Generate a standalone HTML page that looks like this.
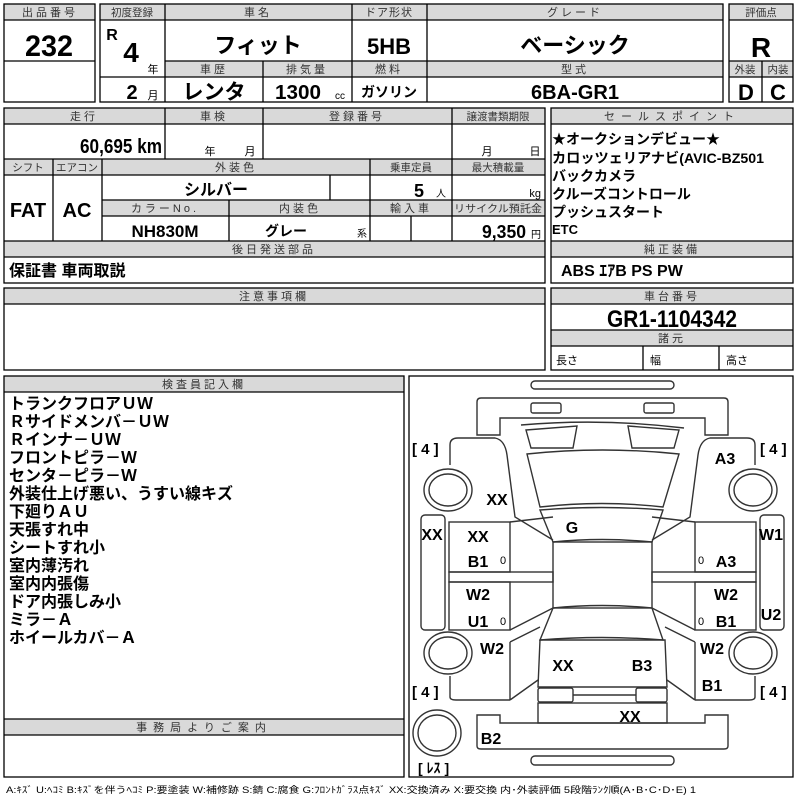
<!DOCTYPE html>
<html><head><meta charset="utf-8"><style>
html,body{margin:0;padding:0;background:#fff;width:800px;height:800px;overflow:hidden}
svg{display:block}
text{font-family:"Liberation Sans","Noto Sans CJK JP",sans-serif;fill:#000}
.h{font-size:11px;letter-spacing:3px;text-anchor:middle;fill:#333}
.h0{font-size:10.5px;letter-spacing:0;text-anchor:middle;fill:#333}
.b{font-weight:bold;text-anchor:middle}
.n{font-family:"Liberation Sans Narrow","Liberation Sans","Noto Sans CJK JP",sans-serif;font-weight:bold;text-anchor:middle}
.s{font-family:"Liberation Sans Narrow","Liberation Sans",sans-serif;font-weight:bold}
.g{fill:#d9d9d9}
.l{stroke:#000;stroke-width:1.3;fill:none}
.c{stroke:#333;stroke-width:1.4;fill:none}
.d{font-weight:bold;font-size:16px;text-anchor:middle}
</style></head><body>
<svg width="800" height="800" viewBox="0 0 800 800" xmlns="http://www.w3.org/2000/svg">
<rect class="g" x="4" y="4" width="91" height="16"/>
<rect class="g" x="100" y="4" width="623" height="16"/>
<rect class="g" x="165" y="61" width="558" height="16"/>
<rect class="g" x="729" y="4" width="64" height="16"/>
<rect class="g" x="729" y="61" width="64" height="16"/>
<rect class="g" x="4" y="108" width="541" height="16"/>
<rect class="g" x="4" y="159" width="541" height="16"/>
<rect class="g" x="102" y="200" width="443" height="16"/>
<rect class="g" x="4" y="241" width="541" height="16"/>
<rect class="g" x="551" y="108" width="242" height="16"/>
<rect class="g" x="551" y="241" width="242" height="16"/>
<rect class="g" x="4" y="288" width="541" height="16"/>
<rect class="g" x="551" y="288" width="242" height="16"/>
<rect class="g" x="551" y="330" width="242" height="16"/>
<rect class="g" x="4" y="376" width="400" height="16"/>
<rect class="g" x="4" y="719" width="400" height="16"/>

<rect class="l" x="4" y="4" width="91" height="98" stroke-width="1.6"/>
<path class="l" d="M4 20H95M4 61H95"/>
<text class="h" x="50" y="16">出品番号</text>
<text class="n" x="49" y="56" font-size="30" textLength="48" lengthAdjust="spacingAndGlyphs">232</text>

<rect class="l" x="100" y="4" width="623" height="98" stroke-width="1.6"/>
<path class="l" d="M100 20H723M165 61H723M100 77H723M165 4V102M352 4V102M427 4V102M263 61V102"/>
<text class="h0" x="132" y="16">初度登録</text>
<text class="h" x="258" y="16">車名</text>
<text class="h" x="389" y="16" style="letter-spacing:1px">ドア形状</text>
<text class="h" x="575" y="16">グレード</text>
<text class="n" x="112" y="40" font-size="16">R</text>
<text class="n" x="131" y="62" font-size="28">4</text>
<text x="153" y="73" font-size="11" text-anchor="middle">年</text>
<text class="n" x="132" y="99" font-size="20">2</text>
<text x="153" y="99" font-size="11" text-anchor="middle">月</text>
<text class="b" x="258" y="53" font-size="22">フィット</text>
<text class="n" x="389" y="54" font-size="22">5HB</text>
<text class="b" x="575" y="53" font-size="22">ベーシック</text>
<text class="h" x="214" y="73">車歴</text>
<text class="h" x="307" y="73">排気量</text>
<text class="h" x="389" y="73">燃料</text>
<text class="h" x="575" y="73">型式</text>
<text class="b" x="214" y="99" font-size="21">レンタ</text>
<text class="s" x="275" y="99" font-size="20" textLength="46" lengthAdjust="spacingAndGlyphs">1300</text>
<text x="340" y="99" font-size="10" text-anchor="middle">cc</text>
<text class="b" x="389" y="97" font-size="14">ガソリン</text>
<text class="s" x="531" y="99" font-size="20" textLength="88" lengthAdjust="spacingAndGlyphs">6BA-GR1</text>

<rect class="l" x="729" y="4" width="64" height="98" stroke-width="1.6"/>
<path class="l" d="M729 20H793M729 61H793M729 77H793M762 61V102"/>
<text class="h0" x="761" y="16">評価点</text>
<text class="n" x="761" y="57" font-size="28">R</text>
<text class="h0" x="745" y="73">外装</text>
<text class="h0" x="778" y="73">内装</text>
<text class="n" x="746" y="100" font-size="22">D</text>
<text class="n" x="778" y="100" font-size="22">C</text>

<rect class="l" x="4" y="108" width="541" height="175" stroke-width="1.6"/>
<path class="l" d="M4 124H545M4 159H545M4 175H545M102 200H545M102 216H545M4 241H545M4 257H545M165 108V159M263 108V159M452 108V241M53 159V241M102 159V241M370 159V241M330 175V200M229 200V241M411 216V241"/>
<text class="h" x="84" y="120">走行</text>
<text class="h" x="214" y="120">車検</text>
<text class="h" x="357" y="120">登録番号</text>
<text class="h0" x="498" y="120">譲渡書類期限</text>
<text class="s" x="80" y="153" font-size="20" textLength="82" lengthAdjust="spacingAndGlyphs">60,695 km</text>
<text x="210" y="155" font-size="11" text-anchor="middle">年</text>
<text x="250" y="155" font-size="11" text-anchor="middle">月</text>
<text x="487" y="155" font-size="11" text-anchor="middle">月</text>
<text x="535" y="155" font-size="11" text-anchor="middle">日</text>
<text class="h0" x="28" y="171">シフト</text>
<text class="h0" x="77" y="171">エアコン</text>
<text class="h" x="236" y="171">外装色</text>
<text class="h0" x="411" y="171">乗車定員</text>
<text class="h0" x="498" y="171">最大積載量</text>
<text class="n" x="28" y="217" font-size="20">FAT</text>
<text class="n" x="77" y="217" font-size="20">AC</text>
<text class="b" x="216" y="195" font-size="16">シルバー</text>
<text class="n" x="419" y="197" font-size="18">5</text>
<text x="441" y="197" font-size="10" text-anchor="middle">人</text>
<text x="541" y="197" font-size="11" text-anchor="end">kg</text>
<text class="h" x="165" y="212">カラーNo.</text>
<text class="h" x="300" y="212">内装色</text>
<text class="h" x="411" y="212">輸入車</text>
<text class="h0" x="498" y="212" font-size="10" textLength="88" lengthAdjust="spacingAndGlyphs">リサイクル預託金</text>
<text class="n" x="165" y="237" font-size="17">NH830M</text>
<text class="b" x="286" y="236" font-size="14">グレー</text>
<text x="362" y="237" font-size="10" text-anchor="middle">系</text>
<text class="s" x="482" y="238" font-size="18" textLength="44" lengthAdjust="spacingAndGlyphs">9,350</text>
<text x="536" y="238" font-size="10" text-anchor="middle">円</text>
<text class="h" x="274" y="253">後日発送部品</text>
<text x="9" y="276" font-size="16" font-weight="bold">保証書 車両取説</text>

<rect class="l" x="551" y="108" width="242" height="175" stroke-width="1.6"/>
<path class="l" d="M551 124H793M551 241H793M551 257H793"/>
<text class="h" x="672" y="120" style="letter-spacing:6px">セールスポイント</text>
<g font-size="14" font-weight="bold">
<text x="552" y="144">★オークションデビュー★</text>
<text x="552" y="163" textLength="212" lengthAdjust="spacingAndGlyphs">カロッツェリアナビ(AVIC-BZ501</text>
<text x="552" y="181">バックカメラ</text>
<text x="552" y="199">クルーズコントロール</text>
<text x="552" y="217">プッシュスタート</text>
<text x="552" y="234" font-size="13">ETC</text>
</g>
<text class="h" x="672" y="253">純正装備</text>
<text x="561" y="276" font-size="16" font-weight="bold">ABS ｴｱB PS PW</text>

<rect class="l" x="4" y="288" width="541" height="82" stroke-width="1.6"/>
<path class="l" d="M4 304H545"/>
<text class="h" x="274" y="300">注意事項欄</text>
<rect class="l" x="551" y="288" width="242" height="82" stroke-width="1.6"/>
<path class="l" d="M551 304H793M551 330H793M551 346H793M643 346V370M719 346V370"/>
<text class="h" x="672" y="300">車台番号</text>
<text class="s" x="607" y="327" font-size="24" textLength="130" lengthAdjust="spacingAndGlyphs">GR1-1104342</text>
<text class="h" x="672" y="342">諸元</text>
<text x="556" y="364" font-size="11">長さ</text>
<text x="650" y="364" font-size="11">幅</text>
<text x="726" y="364" font-size="11">高さ</text>

<rect class="l" x="4" y="376" width="400" height="401" stroke-width="1.6"/>
<path class="l" d="M4 392H404M4 719H404M4 735H404"/>
<text class="h" x="204" y="388">検査員記入欄</text>
<text class="h" x="204" y="731" style="letter-spacing:6px">事務局よりご案内</text>
<g font-size="16" font-weight="bold">
<text x="9" y="409">トランクフロアＵＷ</text>
<text x="9" y="427">Ｒサイドメンバ－ＵＷ</text>
<text x="9" y="445">Ｒインナ－ＵＷ</text>
<text x="9" y="463">フロントピラ－Ｗ</text>
<text x="9" y="481">センタ－ピラ－Ｗ</text>
<text x="9" y="499">外装仕上げ悪い、うすい線キズ</text>
<text x="9" y="517">下廻りＡＵ</text>
<text x="9" y="535">天張すれ中</text>
<text x="9" y="553">シートすれ小</text>
<text x="9" y="571">室内薄汚れ</text>
<text x="9" y="589">室内内張傷</text>
<text x="9" y="607">ドア内張しみ小</text>
<text x="9" y="625">ミラ－Ａ</text>
<text x="9" y="643">ホイールカバ－Ａ</text>
</g>

<rect class="l" x="409" y="376" width="384" height="401" stroke-width="1.6"/>
<g class="c">
<rect x="531" y="381" width="143" height="8" rx="4"/>
<path d="M477 435V402Q477 398 481 398H724Q728 398 728 402V435H705V418H500V435Z"/>
<rect x="531" y="403" width="30" height="10" rx="2"/>
<rect x="644" y="403" width="30" height="10" rx="2"/>
<path d="M521 425Q602 418 684 428"/>
<path d="M526 430L577 426L573 448L531 448Z"/>
<path d="M628 426L679 430L674 448L632 448Z"/>
<path d="M527 454Q602 446 679 454L663 507Q602 500 540 507Z"/>
<path d="M540 510Q602 505 663 510L652 542Q602 537 553 542Z"/>
<rect x="553" y="542" width="99" height="66"/>
<path d="M553 608Q602 603 652 608L663 640Q602 635 540 640Z"/>
<path d="M540 640H665L667 687H538Z"/>
<rect x="538" y="688" width="35" height="14" rx="2"/>
<rect x="636" y="688" width="31" height="14" rx="2"/>
<path d="M573 695H636"/>
<rect x="538" y="703" width="129" height="20"/>
<path d="M477 715V746Q477 749 481 749H724Q728 749 728 746V715H705V723H500V715Z"/>
<rect x="531" y="756" width="143" height="9" rx="4"/>
<path d="M450 465V445Q450 438 458 438H495Q505 440 507 455L515 517L553 540"/>
<rect x="449" y="522" width="61" height="50"/>
<rect x="449" y="572" width="104" height="10"/>
<rect x="449" y="582" width="61" height="48"/>
<path d="M510 522L553 517M510 630L553 608M510 642L540 627M510 642V700M510 700L538 680M450 676V697Q450 700 456 700H510"/>
<rect x="421" y="515" width="24" height="115" rx="4"/>
<path d="M755 465V445Q755 438 747 438H710Q700 440 698 455L690 517L652 540"/>
<rect x="695" y="522" width="61" height="50"/>
<rect x="652" y="572" width="104" height="10"/>
<rect x="695" y="582" width="61" height="48"/>
<path d="M695 522L652 517M695 630L652 608M695 642L665 627M695 642V700M695 700L667 680M755 676V697Q755 700 749 700H695"/>
<rect x="760" y="515" width="24" height="115" rx="4"/>
<ellipse cx="448" cy="490" rx="24" ry="21"/><ellipse cx="448" cy="490" rx="19" ry="16"/>
<ellipse cx="448" cy="653" rx="24" ry="21"/><ellipse cx="448" cy="653" rx="19" ry="16"/>
<ellipse cx="753" cy="490" rx="24" ry="21"/><ellipse cx="753" cy="490" rx="19" ry="16"/>
<ellipse cx="753" cy="653" rx="24" ry="21"/><ellipse cx="753" cy="653" rx="19" ry="16"/>
<ellipse cx="437" cy="733" rx="24" ry="23"/><ellipse cx="437" cy="733" rx="19" ry="18"/>
</g>
<g font-size="15" font-weight="bold">
<text x="412" y="454">[ 4 ]</text>
<text x="760" y="454">[ 4 ]</text>
<text x="412" y="697">[ 4 ]</text>
<text x="760" y="697">[ 4 ]</text>
<text x="418" y="773" font-size="14">[ ﾚｽ ]</text>
</g>
<g>
<text class="d" x="497" y="505">XX</text>
<text class="d" x="432" y="540">XX</text>
<text class="d" x="478" y="542">XX</text>
<text class="d" x="478" y="567">B1</text>
<text x="503" y="564" font-size="11" text-anchor="middle">0</text>
<text class="d" x="572" y="533">G</text>
<text class="d" x="725" y="464">A3</text>
<text class="d" x="771" y="540">W1</text>
<text x="701" y="564" font-size="11" text-anchor="middle">0</text>
<text class="d" x="726" y="567">A3</text>
<text class="d" x="726" y="600">W2</text>
<text class="d" x="771" y="620">U2</text>
<text x="701" y="625" font-size="11" text-anchor="middle">0</text>
<text class="d" x="726" y="627">B1</text>
<text class="d" x="478" y="600">W2</text>
<text class="d" x="478" y="627">U1</text>
<text x="503" y="625" font-size="11" text-anchor="middle">0</text>
<text class="d" x="492" y="654">W2</text>
<text class="d" x="712" y="654">W2</text>
<text class="d" x="563" y="671">XX</text>
<text class="d" x="642" y="671">B3</text>
<text class="d" x="712" y="691">B1</text>
<text class="d" x="630" y="722">XX</text>
<text class="d" x="491" y="744">B2</text>
</g>
<text x="6" y="793" font-size="9" textLength="690" lengthAdjust="spacingAndGlyphs" fill="#222">A:ｷｽﾞ U:ﾍｺﾐ B:ｷｽﾞを伴うﾍｺﾐ P:要塗装 W:補修跡 S:錆 C:腐食 G:ﾌﾛﾝﾄｶﾞﾗｽ点ｷｽﾞ XX:交換済み X:要交換 内･外装評価 5段階ﾗﾝｸ順(A･B･C･D･E) 1</text>
</svg>
</body></html>
